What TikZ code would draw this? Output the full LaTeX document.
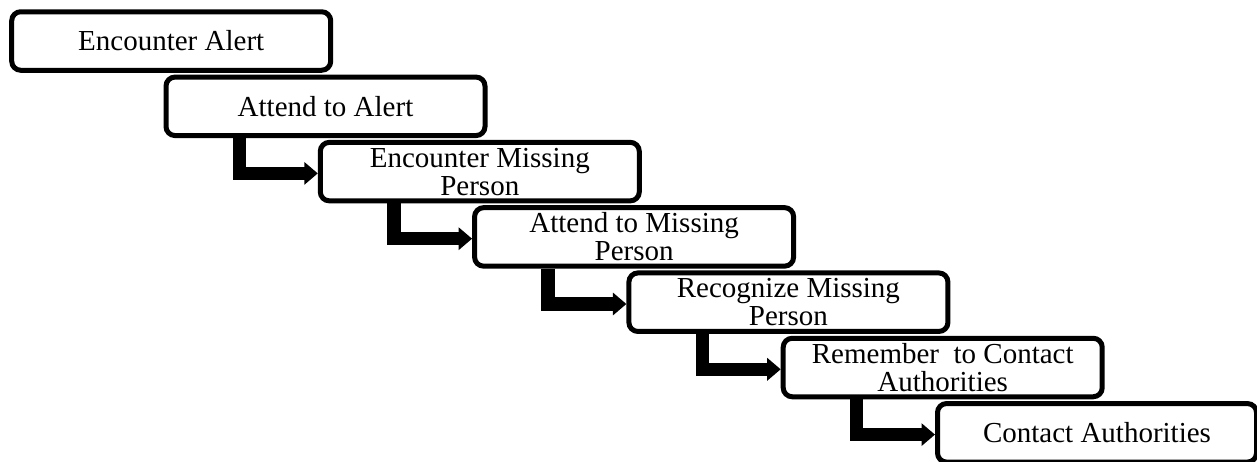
\documentclass[tikz,border=0pt]{standalone}
\usepackage{fontspec}
\setmainfont{Liberation Serif}
\usetikzlibrary{arrows.meta}
\tikzset{
  stepbox/.style={draw=black, fill=white, line width=5pt, rounded corners=9pt,
    minimum width=319pt, minimum height=58.5pt, inner sep=0pt, align=center,
    font=\fontsize{29}{28}\selectfont},
  elbow/.style={line width=13.5pt, line join=miter, draw=black,
    -{Triangle[width=22pt,length=13.5pt]}}
}
\begin{document}
\begin{tikzpicture}[x=1pt,y=-1pt]
\useasboundingbox (0,0) rectangle (1257,461);
\clip (0,0) rectangle (1257,461);
\node[stepbox] (b1) at (171.2,41) {Encounter Alert};
\node[stepbox] (b2) at (325.5,106.3) {Attend to Alert};
\node[stepbox] (b3) at (479.8,171.6) {Encounter Missing\\Person};
\node[stepbox] (b4) at (634.1,236.9) {Attend to Missing\\Person};
\node[stepbox] (b5) at (788.4,302.2) {Recognize Missing\\Person};
\node[stepbox] (b6) at (942.7,367.5) {Remember\ \ to Contact\\Authorities};
\node[stepbox] (b7) at (1097,432.8) {Contact Authorities};
\foreach \a/\b in {b2/b3,b3/b4,b4/b5,b5/b6,b6/b7}{
  \draw[elbow] ([xshift=76pt]\a.south west) |- ([yshift=-1.8pt]\b.west);
}
\end{tikzpicture}
\end{document}
